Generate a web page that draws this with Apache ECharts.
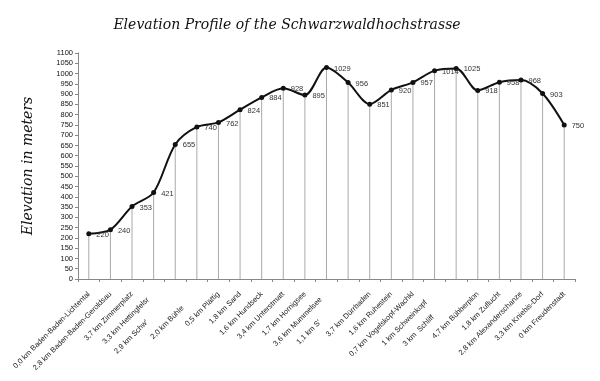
<!DOCTYPE html>
<html><head><meta charset="utf-8">
<script src="https://cdn.jsdelivr.net/npm/echarts@6/dist/echarts.min.js"></script>
<style>html,body{margin:0;padding:0;background:#fff}#c{width:600px;height:381px}</style>
</head><body><div id="c"></div>
<script>
const categories = [
  '0,0 km Baden-Baden-Lichtental','2,8 km Baden-Baden-Geroldsau','3,7 km Zimmerplatz','3,3 km Hettingfelsr',
  "2,9 km Schw'",'2,0 km Bühle','0,5 km Plättig','1,8 km Sand','1,6 km Hundseck','3,4 km Unterstmatt',
  '1,7 km Hornigsee','3,6 km Mummelsee',"1,1 km S'",'3,7 km Dürrbaden','1,6 km Ruhestein',
  '0,7 km Vogelskopf-Wachkl','1 km Schweinkopf','3 km  Schliff','4,7 km Bübberplon','1,8 km Zuflucht',
  '2,8 km Alexanderschanze','3,3 km Kniebis-Dorf','0 km Freudenstadt'
];
const elevations = [220,240,353,421,655,740,762,824,884,928,895,1029,956,851,920,957,1014,1025,918,958,968,903,750];
const labelShift = [0,0,0,8,40,20,0,0,0,0,0,8,40,0,0,0,12,33,0,0,0,0,0];

const chart = echarts.init(document.getElementById('c'));
chart.setOption({
  animation:false,
  title:{text:'Elevation Profile of the Schwarzwaldhochstrasse',left:282,textAlign:'center',top:13,
    textStyle:{fontFamily:'DejaVu Serif',fontStyle:'italic',fontWeight:'normal',fontSize:14,color:'#111'}},
  grid:{left:78,right:25,top:53,bottom:102},
  xAxis:{type:'category',
    data:categories.map((c,i)=>({value:c,textStyle:{padding:[0,labelShift[i],0,0]}})),
    axisLine:{lineStyle:{color:'#888',width:1}},
    axisTick:{show:true,length:3,lineStyle:{color:'#888'}},
    axisLabel:{rotate:45,fontSize:7.5,fontFamily:'Liberation Sans',color:'#222',margin:14,interval:0}},
  yAxis:{type:'value',min:0,max:1100,interval:50,
    name:'Elevation in meters',nameLocation:'middle',nameGap:43,nameRotate:90,
    nameTextStyle:{fontFamily:'DejaVu Serif',fontStyle:'italic',fontSize:14,color:'#111'},
    axisLine:{show:true,lineStyle:{color:'#888'}},
    axisTick:{show:true,length:3,lineStyle:{color:'#888'}},
    splitLine:{show:false},
    axisLabel:{fontSize:7.5,fontFamily:'Liberation Sans',color:'#111',margin:5,formatter:v=>String(v)}},
  series:[
    {type:'bar',data:elevations,barWidth:1,itemStyle:{color:'#aaa'},silent:true},
    {type:'line',data:elevations,smooth:0.3,symbol:'circle',symbolSize:5,
      lineStyle:{color:'#111',width:2},itemStyle:{color:'#111'},
      label:{show:true,position:'right',fontSize:7.5,fontFamily:'Liberation Sans',color:'#333',offset:[0,1]}}
  ]
});
</script></body></html>
